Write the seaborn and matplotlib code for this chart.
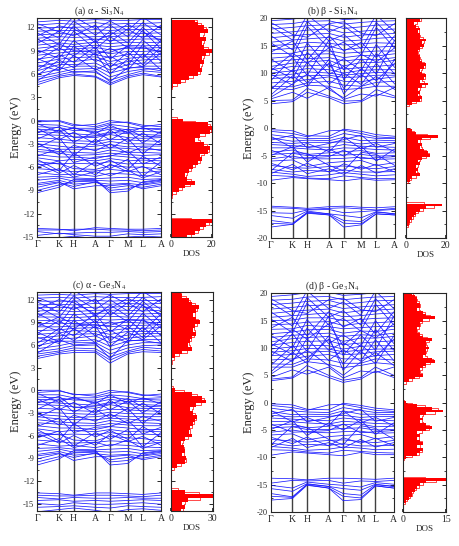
import numpy as np
import pandas as pd
import matplotlib
matplotlib.use('Agg')
import matplotlib.pyplot as plt
from matplotlib.ticker import MultipleLocator
import seaborn as sns

# high-symmetry path
KLABELS = ['Γ', 'K', 'H', 'A', 'Γ', 'M', 'L', 'A']
KPOS = [0.0, 0.176, 0.294, 0.470, 0.588, 0.730, 0.851, 1.0]

# ---- (a) alpha-Si3N4 : energies (eV) at the 8 k-points ----
A_LOW = [
    [-13.9, -14.0, -14.2, -13.8, -13.9, -14.0, -14.0, -13.9],
    [-14.1, -14.1, -14.0, -14.0, -14.1, -14.1, -14.2, -14.1],
    [-14.3, -14.6, -14.5, -14.4, -14.4, -14.3, -14.4, -14.3],
    [-14.8, -14.5, -14.7, -14.9, -14.9, -14.6, -14.7, -14.6],
    [-15.3, -15.1, -14.9, -15.2, -15.4, -15.0, -14.9, -15.0],
]
A_VAL = [
    [0.0, -0.1, -0.7, -0.5, 0.0, -0.3, -0.8, -0.5],
    [-0.2, 0.0, -0.5, -0.8, -0.3, -0.2, -0.6, -0.8],
    [-0.5, -0.6, -1.0, -1.0, -0.5, -0.8, -1.1, -1.0],
    [-0.8, -0.9, -1.3, -1.2, -0.9, -1.2, -1.0, -1.2],
    [-1.1, -1.3, -1.0, -1.5, -1.1, -1.5, -1.4, -1.5],
    [-1.4, -1.6, -1.7, -1.9, -1.5, -1.7, -1.8, -1.9],
    [-1.8, -1.9, -2.1, -2.2, -1.8, -2.2, -2.3, -2.2],
    [-2.2, -2.4, -2.6, -2.7, -2.4, -2.5, -2.6, -2.7],
    [-2.7, -2.8, -2.9, -3.1, -2.7, -3.0, -3.0, -3.1],
    [-3.0, -3.3, -3.5, -3.3, -3.1, -3.4, -3.3, -3.3],
    [-3.3, -3.7, -3.7, -3.7, -3.5, -3.6, -3.8, -3.7],
    [-3.7, -4.0, -4.1, -4.2, -3.8, -4.1, -4.1, -4.2],
    [-4.0, -4.2, -4.5, -4.4, -4.2, -4.4, -4.5, -4.4],
    [-4.4, -4.7, -4.7, -4.9, -4.5, -4.7, -4.9, -4.9],
    [-4.8, -5.2, -5.0, -5.2, -4.9, -5.2, -5.1, -5.2],
    [-5.3, -5.6, -5.5, -5.6, -5.3, -5.6, -5.5, -5.6],
    [-5.7, -5.5, -6.2, -6.3, -5.8, -6.0, -6.0, -6.3],
    [-6.2, -6.4, -6.6, -6.5, -6.3, -6.5, -6.7, -6.5],
    [-6.7, -7.0, -6.9, -7.2, -6.8, -6.9, -7.1, -7.2],
    [-7.3, -7.2, -7.4, -7.5, -7.4, -7.3, -7.6, -7.5],
    [-7.7, -7.4, -7.8, -7.7, -7.8, -7.7, -8.0, -7.7],
    [-8.1, -7.7, -8.2, -8.0, -8.2, -8.1, -8.3, -8.0],
    [-8.6, -8.0, -8.5, -7.9, -8.7, -8.4, -8.6, -8.2],
    [-9.0, -8.3, -7.9, -7.8, -9.0, -8.8, -8.2, -7.8],
    [-9.3, -8.6, -7.6, -7.6, -9.3, -9.1, -7.9, -7.6],
    [-1.0, -2.5, -1.5, -3.0, -1.2, -2.8, -1.6, -3.0],
    [-3.5, -2.2, -4.5, -2.4, -3.6, -2.3, -4.3, -2.4],
    [-5.0, -6.5, -4.2, -5.9, -5.1, -6.3, -4.6, -5.9],
    [-6.0, -5.2, -7.0, -5.3, -6.2, -5.0, -7.2, -5.3],
    [-0.4, -1.5, -0.9, -1.7, -0.6, -1.6, -0.9, -1.7],
    [-2.4, -1.2, -2.8, -1.4, -2.5, -1.3, -2.9, -1.4],
    [-2.9, -4.4, -3.2, -3.9, -3.0, -4.2, -3.4, -3.9],
    [-4.6, -3.6, -5.4, -4.7, -4.6, -3.9, -5.6, -4.7],
    [-5.5, -6.8, -5.8, -7.0, -5.6, -6.6, -5.9, -7.0],
    [-7.0, -6.2, -7.3, -6.6, -7.1, -6.4, -7.4, -6.6],
    [-8.3, -7.9, -8.8, -8.4, -8.4, -8.2, -8.8, -8.4],
    [-1.6, -0.8, -2.2, -2.0, -1.7, -1.1, -2.1, -2.0],
]
A_CON = [
    [4.6, 5.5, 5.8, 5.6, 4.6, 5.5, 5.9, 5.6],
    [4.9, 5.7, 6.0, 5.7, 4.8, 5.7, 6.1, 5.7],
    [5.3, 5.9, 6.3, 6.2, 5.2, 5.9, 6.4, 6.2],
    [5.6, 6.2, 6.6, 6.7, 5.6, 6.3, 6.6, 6.7],
    [6.0, 6.6, 7.0, 7.0, 6.1, 6.7, 7.0, 7.0],
    [6.4, 7.2, 7.2, 7.4, 6.5, 7.2, 7.4, 7.4],
    [6.9, 7.5, 7.6, 7.9, 7.0, 7.6, 7.8, 7.9],
    [7.4, 7.9, 8.1, 8.2, 7.6, 8.0, 8.2, 8.2],
    [7.9, 8.3, 8.6, 8.5, 8.1, 8.5, 8.5, 8.5],
    [8.4, 8.7, 8.9, 9.0, 8.6, 8.9, 8.9, 9.0],
    [8.9, 9.1, 9.2, 9.4, 9.1, 9.3, 9.3, 9.4],
    [9.3, 9.6, 9.5, 9.7, 9.5, 9.7, 9.6, 9.7],
    [9.7, 10.0, 9.8, 10.1, 9.9, 10.1, 10.0, 10.1],
    [10.2, 10.4, 10.2, 10.5, 10.3, 10.4, 10.5, 10.5],
    [10.6, 10.8, 10.7, 10.8, 10.8, 10.9, 10.8, 10.8],
    [11.0, 11.2, 11.1, 11.3, 11.2, 11.3, 11.2, 11.3],
    [11.5, 11.6, 11.6, 11.7, 11.6, 11.7, 11.7, 11.7],
    [11.9, 12.0, 12.0, 12.1, 12.0, 12.1, 12.2, 12.1],
    [12.3, 12.5, 12.4, 12.6, 12.4, 12.5, 12.5, 12.6],
    [12.7, 12.9, 12.8, 13.0, 12.9, 12.9, 13.0, 13.0],
    [13.1, 13.3, 13.2, 13.4, 13.3, 13.3, 13.4, 13.4],
    [6.5, 8.5, 7.5, 9.5, 6.8, 8.8, 7.2, 9.5],
    [8.0, 6.8, 9.6, 7.6, 8.3, 7.0, 9.8, 7.6],
    [10.5, 9.0, 11.5, 9.2, 10.8, 9.4, 11.6, 9.2],
    [12.0, 10.6, 12.8, 11.0, 12.3, 10.8, 12.6, 11.0],
    [5.8, 7.8, 6.8, 8.7, 6.0, 7.9, 6.9, 8.7],
    [7.2, 6.4, 8.4, 6.5, 7.4, 6.5, 8.6, 6.5],
    [9.1, 8.0, 10.3, 8.4, 9.3, 8.2, 10.4, 8.4],
    [11.3, 9.8, 12.2, 10.0, 11.5, 10.0, 12.0, 10.0],
    [7.7, 9.4, 8.3, 10.3, 7.9, 9.6, 8.0, 10.3],
    [9.9, 11.5, 10.9, 12.3, 10.1, 11.8, 10.6, 12.3],
    [5.1, 6.9, 6.2, 6.4, 5.0, 6.8, 6.8, 6.4],
    [12.5, 11.4, 13.4, 11.8, 12.8, 11.6, 13.3, 11.8],
    [8.6, 9.9, 9.0, 8.8, 8.8, 9.5, 9.4, 8.8],
    [10.9, 12.2, 11.8, 10.3, 11.0, 12.4, 11.4, 10.3],
]

# ---- (b) beta-Si3N4 ----
B_LOW = [
    [-14.2, -14.4, -14.6, -14.3, -14.2, -14.4, -14.5, -14.3],
    [-14.5, -14.6, -14.8, -14.6, -14.5, -14.7, -14.9, -14.6],
    [-15.4, -15.5, -14.9, -14.8, -15.4, -15.2, -15.0, -14.8],
    [-15.9, -16.4, -15.1, -15.6, -15.9, -16.3, -15.2, -15.6],
    [-16.8, -17.3, -15.3, -15.6, -16.8, -17.0, -15.3, -15.6],
    [-17.3, -17.5, -15.4, -15.8, -17.3, -17.4, -15.6, -15.8],
    [-18.0, -17.5, -15.5, -15.8, -18.0, -17.6, -15.6, -15.8],
]
B_VAL = [
    [-0.3, -0.5, -1.4, -1.5, -0.2, -0.6, -1.2, -1.5],
    [-0.6, -1.0, -1.6, -0.5, -0.4, -1.0, -1.6, -1.8],
    [-1.2, -1.7, -1.9, -1.9, -1.0, -1.5, -1.9, -1.9],
    [-1.8, -2.4, -2.2, -2.3, -1.7, -2.3, -2.2, -2.3],
    [-2.6, -2.8, -2.6, -2.6, -2.5, -2.9, -2.6, -2.6],
    [-3.0, -3.2, -3.4, -3.5, -3.0, -3.3, -3.4, -3.5],
    [-3.6, -3.6, -3.8, -4.0, -3.6, -3.7, -3.9, -4.0],
    [-4.4, -4.0, -4.8, -4.5, -4.3, -4.1, -4.6, -4.5],
    [-4.8, -4.6, -5.0, -5.0, -4.9, -4.8, -5.1, -5.0],
    [-5.6, -5.1, -5.6, -5.6, -5.5, -5.3, -5.7, -5.6],
    [-6.0, -5.8, -7.0, -6.3, -6.1, -5.9, -6.8, -6.3],
    [-6.8, -7.2, -7.3, -7.0, -6.9, -7.2, -7.4, -7.0],
    [-7.5, -8.0, -7.7, -7.9, -7.6, -8.0, -8.0, -7.9],
    [-8.0, -8.4, -8.8, -8.5, -8.1, -8.4, -8.7, -8.5],
    [-8.6, -8.8, -9.1, -9.2, -8.7, -9.0, -9.2, -9.2],
    [-9.5, -9.0, -9.2, -9.4, -9.6, -9.2, -9.5, -9.4],
    [-1.5, -3.6, -2.8, -4.3, -1.6, -3.8, -2.8, -4.3],
    [-5.0, -3.4, -6.2, -3.8, -5.1, -3.3, -6.0, -3.8],
    [-7.8, -4.5, -4.6, -6.8, -7.8, -4.4, -4.8, -6.8],
    [-2.2, -1.3, -3.6, -2.8, -2.1, -1.3, -3.5, -2.8],
    [-4.0, -5.5, -5.4, -5.2, -4.0, -5.6, -5.4, -5.2],
    [-6.4, -7.6, -6.4, -8.0, -6.5, -7.5, -6.6, -8.0],
    [-8.3, -6.6, -8.3, -7.4, -8.4, -6.8, -8.2, -7.4],
]
B_CON = [
    [4.4, 4.8, 6.5, 5.5, 4.4, 4.8, 6.2, 5.5],
    [5.0, 5.1, 7.2, 5.8, 4.9, 5.0, 7.0, 5.8],
    [5.3, 6.5, 5.4, 7.4, 5.2, 6.2, 5.8, 7.4],
    [7.2, 7.0, 7.8, 7.6, 7.0, 7.2, 7.6, 7.6],
    [7.6, 7.5, 8.2, 8.5, 7.8, 7.6, 8.3, 8.5],
    [8.2, 8.5, 8.8, 9.3, 8.5, 8.4, 8.9, 9.3],
    [9.0, 9.2, 9.5, 9.6, 9.2, 9.3, 9.6, 9.6],
    [9.5, 9.8, 10.2, 10.0, 9.6, 9.9, 10.1, 10.0],
    [10.0, 10.4, 10.8, 10.6, 10.0, 10.5, 10.6, 10.6],
    [10.6, 11.2, 11.3, 11.5, 10.7, 11.0, 11.2, 11.5],
    [11.2, 11.8, 12.0, 12.3, 11.3, 11.9, 11.9, 12.3],
    [12.0, 12.4, 12.6, 12.8, 12.2, 12.5, 12.4, 12.8],
    [12.7, 13.0, 13.4, 13.5, 12.8, 13.2, 13.1, 13.5],
    [13.5, 13.6, 14.2, 14.0, 13.6, 13.8, 14.0, 14.0],
    [14.2, 14.5, 14.8, 14.9, 14.2, 14.6, 14.7, 14.9],
    [15.0, 15.2, 15.6, 15.4, 15.1, 15.3, 15.5, 15.4],
    [15.6, 16.0, 16.2, 16.5, 15.8, 16.0, 16.3, 16.5],
    [16.4, 16.8, 17.0, 17.2, 16.5, 16.9, 17.0, 17.2],
    [17.2, 17.5, 17.8, 18.0, 17.3, 17.6, 17.8, 18.0],
    [18.0, 18.3, 18.6, 18.8, 18.1, 18.4, 18.7, 18.8],
    [18.8, 19.0, 19.4, 19.5, 18.9, 19.2, 19.4, 19.5],
    [19.5, 19.8, 20.2, 20.3, 19.7, 19.9, 20.2, 20.3],
    [6.0, 9.5, 7.5, 12.5, 6.2, 9.8, 7.4, 12.5],
    [9.8, 7.8, 12.0, 8.0, 10.0, 7.9, 11.8, 8.0],
    [12.5, 10.2, 15.5, 11.0, 12.6, 10.5, 15.2, 11.0],
    [15.5, 13.0, 18.5, 14.5, 15.6, 13.3, 18.3, 14.5],
    [18.5, 16.0, 20.5, 17.5, 18.6, 16.2, 20.5, 17.5],
    [8.6, 12.8, 9.6, 16.0, 8.8, 12.6, 9.8, 16.0],
    [5.6, 8.0, 9.8, 7.0, 5.5, 7.6, 9.4, 7.0],
    [7.0, 10.6, 8.2, 11.8, 7.2, 10.8, 8.6, 11.8],
    [11.0, 9.0, 13.8, 9.8, 11.2, 9.2, 13.6, 9.8],
    [13.8, 15.8, 12.4, 16.8, 14.0, 15.6, 12.8, 16.8],
    [16.8, 14.2, 19.4, 15.8, 17.0, 14.4, 19.2, 15.8],
    [19.2, 17.0, 16.5, 19.0, 19.3, 17.2, 16.8, 19.0],
    [10.4, 13.6, 11.8, 14.6, 10.6, 13.4, 12.0, 14.6],
]

# ---- (c) alpha-Ge3N4 ----
C_LOW = [
    [-13.6, -13.7, -13.9, -13.6, -13.6, -13.7, -13.8, -13.6],
    [-13.9, -14.0, -14.0, -13.9, -13.9, -14.0, -14.1, -13.9],
    [-14.2, -14.4, -14.2, -14.3, -14.3, -14.2, -14.3, -14.3],
    [-14.6, -14.5, -14.7, -14.6, -14.7, -14.6, -14.5, -14.6],
    [-15.0, -15.2, -14.9, -15.1, -15.1, -15.0, -14.9, -15.1],
    [-15.5, -15.4, -15.3, -15.5, -15.6, -15.3, -15.4, -15.5],
    [-16.1, -15.8, -15.6, -15.9, -16.2, -15.8, -15.7, -15.9],
]
C_VAL = [
    [0.0, 0.0, -0.6, -0.5, 0.0, -0.3, -0.7, -0.5],
    [-0.3, -0.1, -0.5, -0.8, -0.3, -0.2, -0.6, -0.8],
    [-0.6, -0.6, -1.0, -1.0, -0.6, -0.8, -1.1, -1.0],
    [-0.9, -1.0, -1.3, -1.3, -0.9, -1.2, -1.2, -1.3],
    [-1.2, -1.3, -1.1, -1.6, -1.2, -1.5, -1.5, -1.6],
    [-1.5, -1.7, -1.8, -2.0, -1.6, -1.8, -1.9, -2.0],
    [-1.9, -2.0, -2.2, -2.4, -1.9, -2.3, -2.4, -2.4],
    [-2.4, -2.5, -2.7, -2.8, -2.5, -2.6, -2.7, -2.8],
    [-2.9, -3.0, -3.1, -3.2, -2.9, -3.1, -3.1, -3.2],
    [-3.2, -3.4, -3.6, -3.5, -3.3, -3.5, -3.5, -3.5],
    [-3.5, -3.8, -3.9, -3.9, -3.7, -3.8, -4.0, -3.9],
    [-3.9, -4.2, -4.3, -4.4, -4.0, -4.3, -4.3, -4.4],
    [-4.3, -4.5, -4.7, -4.7, -4.4, -4.6, -4.7, -4.7],
    [-4.7, -5.0, -5.0, -5.2, -4.8, -5.0, -5.2, -5.2],
    [-5.1, -5.5, -5.3, -5.5, -5.2, -5.5, -5.4, -5.5],
    [-5.6, -5.9, -5.8, -5.9, -5.6, -5.9, -5.8, -5.9],
    [-6.0, -5.8, -6.6, -6.7, -6.1, -6.3, -6.4, -6.7],
    [-6.6, -6.8, -7.0, -6.9, -6.7, -6.8, -7.1, -6.9],
    [-7.1, -7.4, -7.3, -7.6, -7.2, -7.3, -7.5, -7.6],
    [-7.7, -7.6, -7.8, -7.9, -7.8, -7.7, -8.0, -7.9],
    [-8.1, -7.8, -8.2, -8.1, -8.2, -8.1, -8.4, -8.1],
    [-8.5, -8.1, -8.6, -8.4, -8.6, -8.5, -8.7, -8.4],
    [-9.1, -8.4, -8.9, -8.3, -9.2, -8.9, -9.0, -8.6],
    [-9.5, -8.8, -8.3, -8.2, -9.5, -9.3, -8.6, -8.2],
    [-9.9, -9.1, -8.0, -8.0, -9.9, -9.7, -8.3, -8.0],
    [-1.1, -2.6, -1.6, -3.1, -1.3, -2.9, -1.7, -3.1],
    [-3.6, -2.3, -4.6, -2.5, -3.7, -2.4, -4.4, -2.5],
    [-5.2, -6.7, -4.4, -6.2, -5.3, -6.5, -4.8, -6.2],
    [-6.3, -5.4, -7.4, -5.6, -6.5, -5.2, -7.5, -5.6],
    [-0.4, -1.6, -0.9, -1.8, -0.6, -1.7, -1.0, -1.8],
    [-2.5, -1.2, -2.9, -1.5, -2.6, -1.4, -3.0, -1.5],
    [-3.0, -4.6, -3.3, -4.1, -3.1, -4.4, -3.5, -4.1],
    [-4.8, -3.7, -5.6, -4.9, -4.8, -4.0, -5.8, -4.9],
    [-5.7, -7.0, -6.0, -7.3, -5.8, -6.8, -6.1, -7.3],
    [-7.3, -6.4, -7.6, -6.9, -7.4, -6.6, -7.7, -6.9],
    [-8.7, -8.3, -9.3, -8.8, -8.8, -8.6, -9.2, -8.8],
    [-1.7, -0.8, -2.3, -2.1, -1.8, -1.1, -2.2, -2.1],
]
C_CON = [
    [4.2, 4.8, 5.0, 5.0, 3.6, 4.8, 5.1, 5.0],
    [4.5, 5.0, 5.3, 5.2, 4.0, 5.0, 5.4, 5.2],
    [4.8, 5.2, 5.6, 5.5, 4.4, 5.2, 5.7, 5.5],
    [5.1, 5.5, 5.9, 6.0, 4.8, 5.6, 5.9, 6.0],
    [5.5, 5.9, 6.3, 6.3, 5.3, 6.0, 6.3, 6.3],
    [5.9, 6.5, 6.5, 6.7, 5.8, 6.5, 6.7, 6.7],
    [6.4, 6.8, 6.9, 7.2, 6.3, 6.9, 7.1, 7.2],
    [6.9, 7.2, 7.4, 7.5, 6.9, 7.3, 7.5, 7.5],
    [7.4, 7.6, 7.9, 7.8, 7.4, 7.8, 7.8, 7.8],
    [7.9, 8.0, 8.2, 8.3, 7.9, 8.2, 8.2, 8.3],
    [8.4, 8.4, 8.5, 8.7, 8.4, 8.6, 8.6, 8.7],
    [8.8, 8.9, 8.8, 9.0, 8.9, 9.0, 8.9, 9.0],
    [9.2, 9.3, 9.2, 9.4, 9.3, 9.4, 9.3, 9.4],
    [9.7, 9.7, 9.6, 9.8, 9.8, 9.7, 9.8, 9.8],
    [10.1, 10.1, 10.0, 10.2, 10.2, 10.2, 10.1, 10.2],
    [10.5, 10.6, 10.4, 10.6, 10.6, 10.6, 10.5, 10.6],
    [10.9, 11.0, 10.9, 11.0, 11.0, 11.1, 11.0, 11.0],
    [11.3, 11.4, 11.3, 11.5, 11.4, 11.5, 11.4, 11.5],
    [11.8, 11.8, 11.8, 11.9, 11.8, 11.9, 11.9, 11.9],
    [12.2, 12.3, 12.2, 12.4, 12.3, 12.3, 12.3, 12.4],
    [12.6, 12.7, 12.6, 12.8, 12.7, 12.8, 12.8, 12.8],
    [13.0, 13.1, 13.1, 13.2, 13.1, 13.2, 13.2, 13.2],
    [6.2, 8.2, 7.2, 9.3, 6.5, 8.5, 7.0, 9.3],
    [7.7, 6.4, 9.3, 7.2, 8.0, 6.6, 9.5, 7.2],
    [10.2, 8.7, 11.2, 8.9, 10.5, 9.1, 11.3, 8.9],
    [11.7, 10.3, 12.5, 10.7, 12.0, 10.5, 12.3, 10.7],
    [5.6, 7.6, 6.6, 8.5, 5.8, 7.7, 6.7, 8.5],
    [7.0, 6.2, 8.2, 6.3, 7.2, 6.3, 8.4, 6.3],
    [8.9, 7.8, 10.1, 8.2, 9.1, 8.0, 10.2, 8.2],
    [11.1, 9.6, 12.0, 9.8, 11.3, 9.8, 11.8, 9.8],
    [7.5, 9.2, 8.1, 10.1, 7.7, 9.4, 7.8, 10.1],
    [9.7, 11.3, 10.7, 12.1, 9.9, 11.6, 10.4, 12.1],
    [4.9, 6.7, 6.0, 6.2, 4.2, 6.6, 6.6, 6.2],
    [12.3, 11.2, 13.2, 11.6, 12.6, 11.4, 13.1, 11.6],
    [8.4, 9.7, 8.8, 8.6, 8.6, 9.3, 9.2, 8.6],
    [10.7, 12.0, 11.6, 10.1, 10.8, 12.2, 11.2, 10.1],
]

# ---- (d) beta-Ge3N4 ----
D_LOW = [
    [-13.8, -13.9, -14.1, -13.8, -13.8, -13.9, -14.0, -13.8],
    [-14.7, -14.2, -14.3, -14.2, -14.7, -14.3, -14.4, -14.2],
    [-15.1, -15.6, -14.5, -14.9, -15.1, -15.4, -14.6, -14.9],
    [-15.7, -16.2, -14.8, -15.3, -15.7, -16.0, -14.9, -15.3],
    [-16.6, -17.2, -14.9, -15.3, -16.6, -16.9, -15.0, -15.3],
    [-17.1, -17.3, -15.0, -15.6, -17.1, -17.4, -15.2, -15.6],
    [-17.8, -17.5, -15.1, -15.6, -17.9, -17.7, -15.2, -15.6],
]
D_VAL = [
    [-0.2, -0.4, -1.2, -1.3, -0.1, -0.5, -1.0, -1.3],
    [-0.5, -0.9, -1.4, -0.4, -0.3, -0.9, -1.4, -1.6],
    [-1.0, -1.5, -1.7, -1.8, -0.9, -1.4, -1.8, -1.8],
    [-1.6, -2.2, -2.1, -2.2, -1.5, -2.1, -2.1, -2.2],
    [-2.3, -2.6, -2.5, -2.5, -2.3, -2.7, -2.5, -2.5],
    [-2.8, -3.0, -3.2, -3.3, -2.8, -3.1, -3.2, -3.3],
    [-3.4, -3.5, -3.7, -3.9, -3.4, -3.6, -3.8, -3.9],
    [-4.1, -3.9, -4.6, -4.3, -4.0, -3.9, -4.4, -4.3],
    [-4.6, -4.4, -4.9, -4.9, -4.7, -4.6, -5.0, -4.9],
    [-5.4, -5.0, -5.4, -5.5, -5.3, -5.2, -5.6, -5.5],
    [-5.9, -5.7, -6.8, -6.2, -6.0, -5.8, -6.6, -6.2],
    [-6.7, -7.0, -7.2, -6.9, -6.8, -7.1, -7.3, -6.9],
    [-7.4, -7.9, -7.6, -7.8, -7.5, -7.9, -7.9, -7.8],
    [-8.0, -8.3, -8.7, -8.5, -8.1, -8.3, -8.6, -8.5],
    [-8.6, -8.7, -9.0, -9.2, -8.7, -8.9, -9.1, -9.2],
    [-9.6, -9.0, -9.2, -9.5, -9.7, -9.1, -9.5, -9.5],
    [-1.4, -3.5, -2.7, -4.2, -1.5, -3.7, -2.7, -4.2],
    [-4.9, -3.3, -6.0, -3.7, -5.0, -3.2, -5.8, -3.7],
    [-7.7, -4.3, -4.5, -6.7, -7.7, -4.2, -4.7, -6.7],
    [-2.1, -1.2, -3.5, -2.7, -2.0, -1.2, -3.4, -2.7],
    [-3.9, -5.4, -5.3, -5.1, -3.9, -5.5, -5.3, -5.1],
    [-6.3, -7.5, -6.3, -7.9, -6.4, -7.4, -6.5, -7.9],
    [-8.2, -6.5, -8.2, -7.3, -8.3, -6.7, -8.1, -7.3],
]
D_CON = [
    [4.0, 4.5, 6.0, 4.6, 3.7, 4.3, 5.8, 4.6],
    [4.3, 4.7, 6.8, 5.0, 4.1, 4.6, 6.5, 5.0],
    [4.6, 6.0, 5.2, 6.5, 4.5, 5.8, 5.5, 6.5],
    [6.5, 6.5, 7.5, 7.0, 6.4, 6.8, 7.3, 7.0],
    [7.1, 7.0, 8.0, 7.8, 7.2, 7.2, 8.0, 7.8],
    [7.8, 8.0, 8.5, 8.8, 8.0, 8.0, 8.6, 8.8],
    [8.6, 8.8, 9.2, 9.4, 8.8, 8.9, 9.3, 9.4],
    [9.2, 9.5, 9.9, 9.8, 9.3, 9.6, 9.8, 9.8],
    [9.8, 10.2, 10.5, 10.4, 9.8, 10.3, 10.4, 10.4],
    [10.5, 11.0, 11.2, 11.3, 10.6, 10.9, 11.1, 11.3],
    [11.1, 11.7, 11.9, 12.1, 11.2, 11.8, 11.8, 12.1],
    [11.9, 12.3, 12.5, 12.7, 12.1, 12.4, 12.3, 12.7],
    [12.6, 12.9, 13.3, 13.4, 12.7, 13.1, 13.0, 13.4],
    [13.4, 13.5, 14.1, 13.9, 13.5, 13.7, 13.9, 13.9],
    [14.2, 14.4, 14.7, 14.8, 14.1, 14.5, 14.6, 14.8],
    [15.0, 15.1, 15.5, 15.5, 15.0, 15.2, 15.4, 15.5],
    [15.6, 15.9, 16.1, 16.4, 15.7, 15.9, 16.2, 16.4],
    [16.3, 16.7, 16.9, 17.1, 16.4, 16.8, 16.9, 17.1],
    [17.1, 17.4, 17.7, 17.9, 17.2, 17.5, 17.7, 17.9],
    [17.9, 18.2, 18.5, 18.7, 18.0, 18.3, 18.6, 18.7],
    [18.7, 18.9, 19.3, 19.4, 18.8, 19.1, 19.3, 19.4],
    [19.4, 19.7, 20.1, 20.2, 19.6, 19.8, 20.1, 20.2],
    [5.6, 9.2, 7.2, 12.2, 5.9, 9.5, 7.1, 12.2],
    [9.5, 7.5, 11.7, 7.7, 9.7, 7.6, 11.5, 7.7],
    [12.3, 10.0, 15.2, 10.8, 12.4, 10.3, 15.0, 10.8],
    [15.3, 12.8, 18.2, 14.2, 15.4, 13.1, 18.0, 14.2],
    [18.3, 15.8, 20.4, 17.2, 18.4, 16.0, 20.4, 17.2],
    [8.4, 12.6, 9.4, 15.8, 8.6, 12.4, 9.6, 15.8],
    [5.2, 7.8, 9.6, 6.8, 5.0, 7.4, 9.2, 6.8],
    [6.8, 10.4, 8.0, 11.6, 7.0, 10.6, 8.4, 11.6],
    [10.8, 8.8, 13.6, 9.6, 11.0, 9.0, 13.4, 9.6],
    [13.6, 15.6, 12.2, 16.6, 13.8, 15.4, 12.6, 16.6],
    [16.6, 14.0, 19.2, 15.6, 16.8, 14.2, 19.0, 15.6],
    [19.0, 16.8, 16.3, 18.8, 19.1, 17.0, 16.6, 18.8],
    [10.2, 13.4, 11.6, 14.4, 10.4, 13.2, 11.8, 14.4],
]

# ---- densities of states, sampled every 0.5 eV ----
DOS_STEP = 0.5
DOS_A_START = -15.0
DOS_A = [8, 12, 14, 17, 20, 0, 0, 0, 0, 0, 0, 1, 4, 7, 12, 8, 7, 9, 11, 13,
         15, 14, 18, 19, 16, 12, 14, 19, 20, 18, 6, 0, 0, 0, 0, 0, 0, 0, 0, 1,
         5, 9, 13, 15, 14, 16, 15, 17, 20, 16, 15, 17, 14, 18, 16, 13, 12]
DOS_B_START = -20.0
DOS_B = [0, 0, 0, 0, 0.5, 1.5, 2, 3, 4, 5, 7, 10, 18, 0, 0, 0, 0, 0, 0, 0,
         0.5, 2, 3, 7, 5, 6, 5, 7, 6, 8, 12, 11, 9, 7, 8, 6, 8, 16, 5, 3,
         0.5, 0, 0, 0, 0, 0, 0, 0, 0, 3, 7, 8, 6, 7, 6, 8, 11, 7, 9, 10,
         8, 7, 9, 10, 8, 7, 7, 6, 6, 7, 9, 8, 10, 7, 7, 6, 7, 5, 4, 7, 8]
DOS_C_START = -16.0
DOS_C = [7, 10, 8, 12, 30, 10, 0, 0, 0, 0, 0, 0, 4, 10, 11, 8, 10, 9, 7, 10,
         15, 13, 14, 16, 17, 19, 16, 14, 18, 25, 22, 15, 3, 0, 0, 0, 0, 0, 0, 0,
         1, 3, 8, 15, 12, 14, 15, 18, 16, 17, 21, 18, 16, 18, 20, 15, 13, 8, 7]
DOS_D_START = -20.0
DOS_D = [0, 0, 0, 0.3, 1, 2, 3, 3, 4, 5, 6, 8, 15, 0, 0, 0, 0, 0, 0, 0,
         1, 5, 6, 7, 5, 7, 6, 5, 6, 5, 8, 10, 8, 6, 7, 6, 8, 14, 10, 5,
         1, 0, 0, 0, 0, 0, 0, 0, 2, 4, 7, 6, 6, 7, 8, 11, 10, 7, 8, 8,
         9, 8, 8, 10, 7, 6, 5, 5, 6, 6, 7, 11, 8, 7, 5, 6, 6, 5, 5, 4, 3]

sns.set_theme(style='ticks')
plt.rcParams['font.family'] = ['Liberation Serif', 'DejaVu Serif']
plt.rcParams['mathtext.fontset'] = 'stix'
plt.rcParams['axes.unicode_minus'] = False

fig = plt.figure(figsize=(4.59, 5.46), dpi=100)


def band_frame(groups):
    rows = []
    n = 0
    for g in groups:
        for b in g:
            for k, e in zip(KPOS, b):
                rows.append((n, k, e))
            n += 1
    return pd.DataFrame(rows, columns=['band', 'k', 'E'])


def draw_panel(rect_band, rect_dos, title, groups, ylim, major, dos_start, dos, dos_max):
    axb = fig.add_axes(rect_band)
    for k in KPOS[1:-1]:
        axb.axvline(k, color='#404040', lw=1.0, zorder=1)
    df = band_frame(groups)
    sns.lineplot(data=df, x='k', y='E', units='band', estimator=None,
                 color='#1a1aff', lw=0.55, ax=axb, legend=False, zorder=2)
    axb.set_xlim(0, 1)
    axb.set_ylim(*ylim)
    axb.set_xticks(KPOS)
    axb.set_xticklabels(KLABELS)
    axb.yaxis.set_major_locator(MultipleLocator(major))
    axb.yaxis.set_minor_locator(MultipleLocator(major / 2))
    axb.tick_params(axis='x', length=0, labelsize=7, pad=2)
    axb.tick_params(axis='y', which='both', direction='in', left=True, right=True,
                    labelsize=6, pad=2)
    axb.tick_params(axis='y', which='major', length=3, width=0.7)
    axb.tick_params(axis='y', which='minor', length=1.6, width=0.6)
    axb.set_xlabel('')
    axb.set_ylabel('Energy (eV)', fontsize=9, labelpad=1)
    axb.set_title(title, fontsize=7, pad=3)
    for s in axb.spines.values():
        s.set_linewidth(0.8)

    axd = fig.add_axes(rect_dos)
    e = dos_start + DOS_STEP * np.arange(len(dos))
    axd.fill_betweenx(e, 0, dos, step='mid', color='#ff0000', lw=0)
    sns.lineplot(x=dos, y=e, orient='y', color='#ff0000', lw=0.5,
                 drawstyle='steps-mid', ax=axd)
    axd.set_xlim(0, dos_max)
    axd.set_ylim(*ylim)
    axd.set_xticks([0, dos_max])
    axd.yaxis.set_major_locator(MultipleLocator(major))
    axd.yaxis.set_minor_locator(MultipleLocator(major / 2))
    axd.set_yticklabels([])
    axd.tick_params(axis='x', direction='in', length=2, labelsize=7, pad=2)
    axd.tick_params(axis='y', which='both', direction='in', left=True, right=True)
    axd.tick_params(axis='y', which='major', length=3, width=0.7)
    axd.tick_params(axis='y', which='minor', length=1.6, width=0.6)
    axd.set_xlabel('DOS', fontsize=6.5, labelpad=1)
    axd.set_ylabel('')
    for s in axd.spines.values():
        s.set_linewidth(0.8)


draw_panel([0.081, 0.566, 0.270, 0.401], [0.3725, 0.566, 0.089, 0.401],
           '(a) α - Si$_3$N$_4$', [A_LOW, A_VAL, A_CON], (-15, 13.2), 3,
           DOS_A_START, DOS_A, 20)
draw_panel([0.590, 0.564, 0.270, 0.403], [0.8845, 0.564, 0.087, 0.403],
           '(b) β - Si$_3$N$_4$', [B_LOW, B_VAL, B_CON], (-20, 20), 5,
           DOS_B_START, DOS_B, 20)
draw_panel([0.081, 0.064, 0.270, 0.401], [0.3725, 0.064, 0.091, 0.401],
           '(c) α - Ge$_3$N$_4$', [C_LOW, C_VAL, C_CON], (-16, 13), 3,
           DOS_C_START, DOS_C, 30)
draw_panel([0.590, 0.062, 0.268, 0.401], [0.878, 0.062, 0.094, 0.401],
           '(d) β - Ge$_3$N$_4$', [D_LOW, D_VAL, D_CON], (-20, 20), 5,
           DOS_D_START, DOS_D, 15)

fig.savefig('out.png', dpi=100)
